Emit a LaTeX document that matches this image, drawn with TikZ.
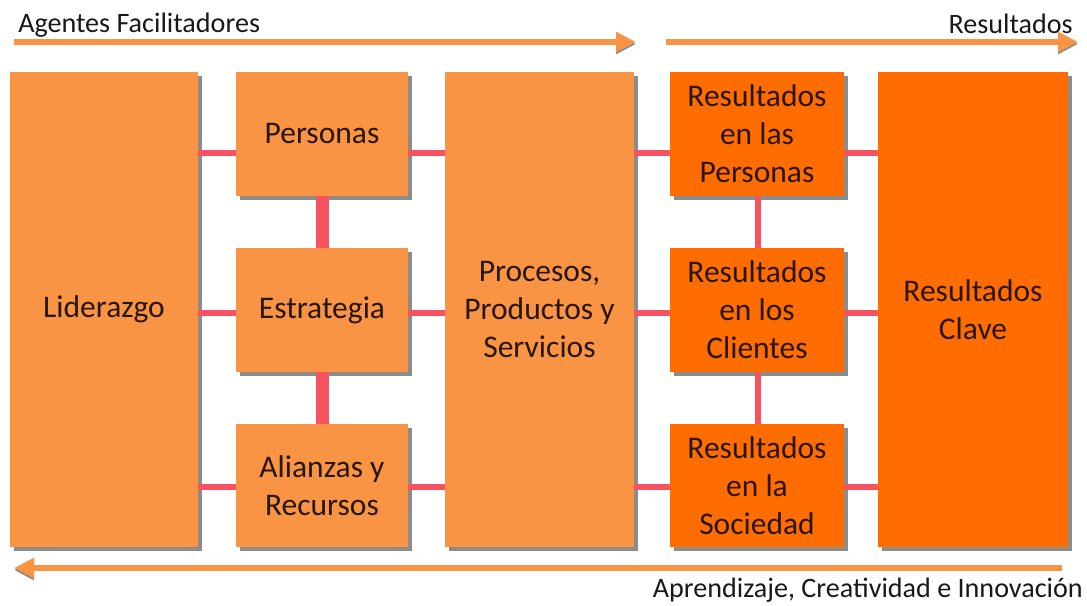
\documentclass[tikz,border=0pt]{standalone}
\usepackage{fontspec}
\setmainfont{Carlito}
\usetikzlibrary{arrows.meta}
\usetikzlibrary{shadows}
\definecolor{lightor}{RGB}{248,148,68}
\definecolor{darkor}{RGB}{255,108,0}
\definecolor{linkred}{RGB}{246,82,98}
\definecolor{boxtext}{RGB}{40,22,10}
\tikzset{
box/.style={ % Sets the properties for each criterion
fill=lightor,
text=boxtext,
align=center,
inner sep=0pt,
font=\fontsize{22.4}{27}\selectfont,
drop shadow={fill=gray!90, opacity=1, shadow xshift=0.09cm, shadow yshift=-0.09cm}},
resbox/.style={box, fill=darkor}, % Results are darker
link/.style={draw=linkred, line width=0.15cm},
flow/.style={ % The big orange arrows
draw=lightor,
line width=0.15cm,
-{Triangle[length=0.5cm,width=0.48cm]},
preaction={draw=black!45, transform canvas={yshift=-0.05cm}}},
label/.style={inner sep=0pt, text=black!90, font=\fontsize{20}{24}\selectfont}}

\begin{document}
\begin{tikzpicture}[x=0.025cm, y=-0.025cm]
	\useasboundingbox (0,0) rectangle (1087,606);
	% rows of the links
	\coordinate (r1) at (0,153);
	\coordinate (r2) at (0,313);
	\coordinate (r3) at (0,487);
	% enablers
	\node[box, minimum width=4.7cm, minimum height=11.875cm] (lid) at (104,309.5) {Liderazgo};
	\node[box, minimum width=4.3cm, minimum height=3.1cm] (pers) at (322,134) {Personas};
	\node[box, minimum width=4.3cm, minimum height=3.1cm] (estr) at (322,310) {Estrategia};
	\node[box, minimum width=4.3cm, minimum height=3.075cm] (alia) at (322,485.5) {Alianzas y\\Recursos};
	\node[box, minimum width=4.725cm, minimum height=11.875cm] (proc) at (539.5,309.5) {Procesos,\\Productos y\\Servicios};
	% results
	\node[resbox, minimum width=4.35cm, minimum height=3.1cm] (rpers) at (757,134) {Resultados\\en las\\Personas};
	\node[resbox, minimum width=4.35cm, minimum height=3.1cm] (rcli) at (757,310) {Resultados\\en los\\Clientes};
	\node[resbox, minimum width=4.35cm, minimum height=3.075cm] (rsoc) at (757,485.5) {Resultados\\en la\\Sociedad};
	\node[resbox, minimum width=4.75cm, minimum height=11.875cm] (clave) at (973,309.5) {Resultados\\Clave};
	% links
	\draw[link] (lid.east |- r1) -- (pers.west |- r1);
	\draw[link] (lid.east |- r2) -- (estr.west |- r2);
	\draw[link] (lid.east |- r3) -- (alia.west |- r3);
	\draw[link] (pers.east |- r1) -- (proc.west |- r1);
	\draw[link] (estr.east |- r2) -- (proc.west |- r2);
	\draw[link] (alia.east |- r3) -- (proc.west |- r3);
	\draw[link] (proc.east |- r1) -- (rpers.west |- r1);
	\draw[link] (proc.east |- r2) -- (rcli.west |- r2);
	\draw[link] (proc.east |- r3) -- (rsoc.west |- r3);
	\draw[link] (rpers.east |- r1) -- (clave.west |- r1);
	\draw[link] (rcli.east |- r2) -- (clave.west |- r2);
	\draw[link] (rsoc.east |- r3) -- (clave.west |- r3);
	\draw[link, line width=0.325cm] (pers.south) -- (estr.north);
	\draw[link, line width=0.325cm] (estr.south) -- (alia.north);
	\draw[link] ([xshift=0.025cm]rpers.south) -- ([xshift=0.025cm]rcli.north);
	\draw[link] ([xshift=0.025cm]rcli.south) -- ([xshift=0.025cm]rsoc.north);
	% arrows and their labels
	\coordinate (a1) at (14,42);
	\coordinate (a2) at (636,42);
	\coordinate (b1) at (666,42);
	\coordinate (b2) at (1078,42);
	\coordinate (c1) at (1062,568);
	\coordinate (c2) at (14,568);
	\draw[flow] (a1) -- (a2);
	\draw[flow] (b1) -- (b2);
	\draw[flow] (c1) -- (c2);
	\node[label, anchor=base west] (agentes) at (18,32) {Agentes Facilitadores};
	\node[label, anchor=base east] (result) at (1073,33) {Resultados};
	\node[label, anchor=base east] (aprend) at (1083,597) {Aprendizaje, Creatividad e Innovación};
\end{tikzpicture}
\end{document}
